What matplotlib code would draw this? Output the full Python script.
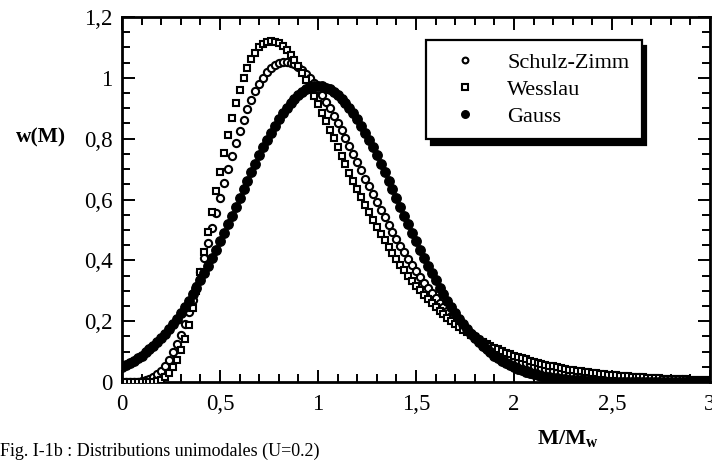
import matplotlib
matplotlib.use("Agg")
import matplotlib.pyplot as plt
import numpy as np

plt.rcParams['font.family'] = ['Liberation Serif', 'DejaVu Serif']
plt.rcParams['mathtext.fontset'] = 'custom'
plt.rcParams['mathtext.rm'] = 'Liberation Serif'
plt.rcParams['mathtext.bf'] = 'Liberation Serif:bold'

# M/Mw sample positions (step 0.02 from 0 to 3)
m_ratio = np.round(np.arange(0, 3.001, 0.02), 2)

schulz_zimm = [
    0.000, 0.000, 0.000, 0.000, 0.001, 0.002, 0.005, 0.009, 0.016, 0.025,
    0.037, 0.054, 0.073, 0.097, 0.125, 0.156, 0.191, 0.230, 0.271, 0.315,
    0.361, 0.409, 0.458, 0.507, 0.556, 0.605, 0.653, 0.699, 0.744, 0.786,
    0.826, 0.863, 0.897, 0.928, 0.956, 0.980, 1.001, 1.018, 1.031, 1.042,
    1.049, 1.052, 1.053, 1.050, 1.045, 1.037, 1.027, 1.014, 0.999, 0.982,
    0.964, 0.944, 0.922, 0.900, 0.876, 0.852, 0.827, 0.801, 0.775, 0.749,
    0.722, 0.696, 0.669, 0.643, 0.617, 0.591, 0.566, 0.541, 0.517, 0.493,
    0.470, 0.448, 0.426, 0.405, 0.384, 0.364, 0.345, 0.327, 0.309, 0.292,
    0.276, 0.261, 0.246, 0.232, 0.218, 0.205, 0.193, 0.181, 0.170, 0.160,
    0.150, 0.140, 0.132, 0.123, 0.115, 0.108, 0.101, 0.094, 0.088, 0.082,
    0.076, 0.071, 0.066, 0.062, 0.058, 0.054, 0.050, 0.046, 0.043, 0.040,
    0.037, 0.034, 0.032, 0.030, 0.027, 0.025, 0.024, 0.022, 0.020, 0.019,
    0.017, 0.016, 0.015, 0.014, 0.013, 0.012, 0.011, 0.010, 0.009, 0.008,
    0.008, 0.007, 0.007, 0.006, 0.006, 0.005, 0.005, 0.004, 0.004, 0.004,
    0.003, 0.003, 0.003, 0.003, 0.002, 0.002, 0.002, 0.002, 0.002, 0.002,
    0.001,
]

wesslau = [
    0.000, 0.000, 0.000, 0.000, 0.000, 0.000, 0.000, 0.000, 0.001, 0.004,
    0.008, 0.016, 0.029, 0.048, 0.072, 0.104, 0.143, 0.189, 0.242, 0.299,
    0.361, 0.426, 0.493, 0.560, 0.627, 0.692, 0.754, 0.812, 0.867, 0.916,
    0.961, 1.000, 1.033, 1.061, 1.083, 1.100, 1.112, 1.119, 1.121, 1.119,
    1.113, 1.104, 1.091, 1.076, 1.058, 1.038, 1.015, 0.992, 0.967, 0.940,
    0.913, 0.886, 0.857, 0.829, 0.801, 0.772, 0.744, 0.716, 0.688, 0.661,
    0.634, 0.608, 0.583, 0.558, 0.534, 0.510, 0.487, 0.466, 0.444, 0.424,
    0.404, 0.385, 0.367, 0.350, 0.333, 0.317, 0.301, 0.287, 0.273, 0.259,
    0.246, 0.234, 0.222, 0.211, 0.200, 0.190, 0.181, 0.172, 0.163, 0.155,
    0.147, 0.139, 0.132, 0.125, 0.119, 0.113, 0.107, 0.101, 0.096, 0.091,
    0.086, 0.082, 0.078, 0.074, 0.070, 0.066, 0.063, 0.060, 0.057, 0.054,
    0.051, 0.048, 0.046, 0.043, 0.041, 0.039, 0.037, 0.035, 0.033, 0.032,
    0.030, 0.028, 0.027, 0.026, 0.024, 0.023, 0.022, 0.021, 0.020, 0.019,
    0.018, 0.017, 0.016, 0.015, 0.014, 0.014, 0.013, 0.012, 0.011, 0.011,
    0.011, 0.010, 0.010, 0.009, 0.009, 0.008, 0.008, 0.007, 0.007, 0.007,
    0.006,
]

gauss = [
    0.050, 0.056, 0.063, 0.070, 0.079, 0.087, 0.097, 0.108, 0.119, 0.132,
    0.145, 0.159, 0.175, 0.191, 0.208, 0.227, 0.246, 0.266, 0.288, 0.310,
    0.334, 0.358, 0.383, 0.409, 0.435, 0.463, 0.490, 0.519, 0.547, 0.576,
    0.605, 0.633, 0.662, 0.690, 0.718, 0.745, 0.771, 0.796, 0.820, 0.843,
    0.864, 0.884, 0.902, 0.918, 0.932, 0.944, 0.955, 0.963, 0.968, 0.972,
    0.973, 0.972, 0.968, 0.963, 0.955, 0.944, 0.932, 0.918, 0.902, 0.884,
    0.864, 0.843, 0.820, 0.796, 0.771, 0.745, 0.718, 0.690, 0.662, 0.633,
    0.605, 0.576, 0.547, 0.519, 0.490, 0.463, 0.435, 0.409, 0.383, 0.358,
    0.334, 0.310, 0.288, 0.266, 0.246, 0.227, 0.208, 0.191, 0.175, 0.159,
    0.145, 0.132, 0.119, 0.108, 0.097, 0.087, 0.079, 0.070, 0.063, 0.056,
    0.050, 0.044, 0.039, 0.034, 0.030, 0.027, 0.023, 0.020, 0.018, 0.015,
    0.013, 0.012, 0.010, 0.009, 0.007, 0.006, 0.005, 0.005, 0.004, 0.003,
    0.003, 0.002, 0.002, 0.002, 0.001, 0.001, 0.001, 0.001, 0.000, 0.000,
    0.000, 0.000, 0.000, 0.000, 0.000, 0.000, 0.000, 0.000, 0.000, 0.000,
    0.000, 0.000, 0.000, 0.000, 0.000, 0.000, 0.000, 0.000, 0.000, 0.000,
    0.000,
]

x_ticks = [0, 0.5, 1, 1.5, 2, 2.5, 3]
x_tick_labels = ['0', '0,5', '1', '1,5', '2', '2,5', '3']
y_ticks = [0, 0.2, 0.4, 0.6, 0.8, 1.0, 1.2]
y_tick_labels = ['0', '0,2', '0,4', '0,6', '0,8', '1', '1,2']

fig = plt.figure(figsize=(7.12, 4.63), dpi=100)
ax = fig.add_axes([122 / 712, 1 - 382 / 463, 588 / 712, 365 / 463])

ax.plot(m_ratio, schulz_zimm, 'o', ls='none', ms=5.2, mfc='white', mec='black', mew=1.5,
        label='Schulz-Zimm', zorder=3)
ax.plot(m_ratio, wesslau, 's', ls='none', ms=5.0, mfc='white', mec='black', mew=1.5,
        label='Wesslau', zorder=4)
ax.plot(m_ratio, gauss, 'o', ls='none', ms=6.8, mfc='black', mec='black',
        label='Gauss', zorder=5)

ax.set_xlim(0, 3)
ax.set_ylim(0, 1.2)
ax.set_xticks(x_ticks)
ax.set_xticklabels(x_tick_labels)
ax.set_yticks(y_ticks)
ax.set_yticklabels(y_tick_labels)
ax.set_xticks(np.arange(0, 3.001, 0.1), minor=True)
ax.set_yticks(np.arange(0, 1.201, 0.05), minor=True)
ax.tick_params(which='both', direction='in', top=True, right=True, width=1.4, labelsize=16.5)
ax.tick_params(which='major', length=9)
ax.tick_params(which='minor', length=5.5)
ax.tick_params(axis='x', pad=9)
ax.tick_params(axis='y', pad=7)
for sp in ax.spines.values():
    sp.set_linewidth(2)

leg = ax.legend(loc='upper right', bbox_to_anchor=(0.884, 0.937), fontsize=16,
                fancybox=False, shadow={'color': 'black', 'alpha': 1, 'ox': 3, 'oy': -4},
                edgecolor='black', framealpha=1, markerscale=0.8,
                handletextpad=0.7, borderpad=0.55, labelspacing=0.3,
                handlelength=2.4, borderaxespad=0)
leg.get_frame().set_linewidth(1.6)

fig.text(0.058, 0.703, 'w(M)', fontsize=15.5, fontweight='bold', ha='center', va='center')
fig.text(0.797, 0.052, r'$\mathbf{M/M_w}$', fontsize=16, ha='center', va='center')
fig.text(0.0, 0.006, 'Fig. I-1b : Distributions unimodales (U=0.2)', fontsize=13,
         ha='left', va='bottom')

fig.savefig('out.png', dpi=100)
